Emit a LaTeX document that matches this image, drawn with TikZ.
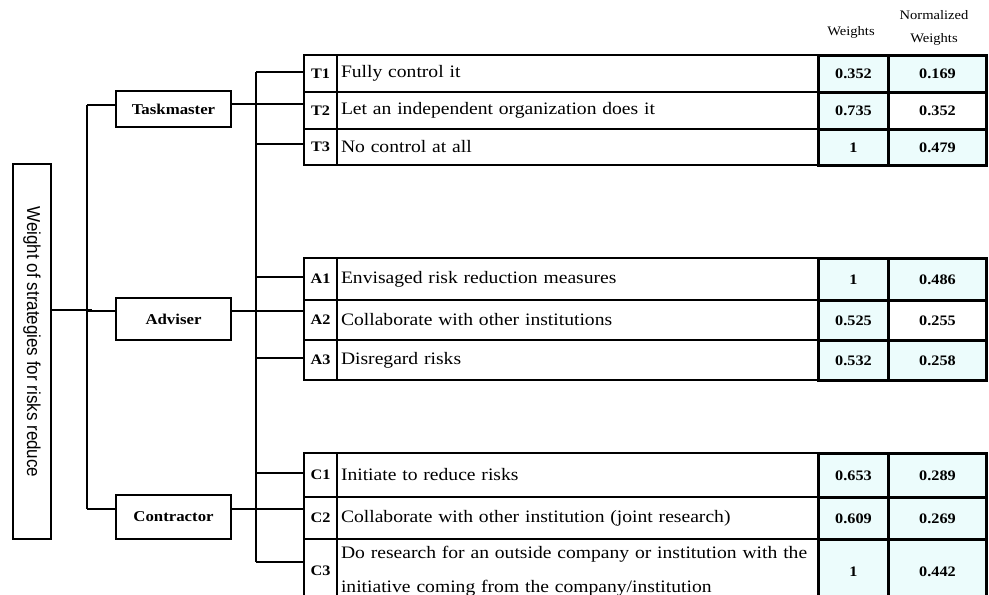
\documentclass[tikz,border=0pt]{standalone}
\usepackage{fontspec}
\setmainfont{Liberation Serif}
\newfontfamily\rowfont[FakeStretch=1.12]{Liberation Serif}
\newfontfamily\labfont{Liberation Sans}
\definecolor{cellbg}{RGB}{236,252,252}
\newcommand\mkrow[9]{%
  \node[idc,minimum height=#3pt] (#1) at (303,#2) {#4};
  \node[txc,minimum height=#3pt] (#1t) at (336,#2) {#5};
  \node[wc,minimum height=#3pt,#8] (#1w) at (817,#2) {#6};
  \node[nc,minimum height=#3pt,#9] (#1n) at (887,#2) {#7};
}
\begin{document}
\begin{tikzpicture}[x=1pt,y=-1pt,line width=2pt,
  frame/.style={draw,line width=2.6pt,inner sep=0pt},
  sbox/.style={frame,minimum width=115pt,font={\rowfont\bfseries\fontsize{15}{18}\selectfont}},
  idc/.style={draw,line width=2pt,anchor=north west,minimum width=33pt,inner sep=0pt,font={\rowfont\bfseries\fontsize{14.5}{17}\selectfont}},
  txc/.style={draw,line width=2pt,anchor=north west,text width=473pt,inner xsep=4pt,inner ysep=0pt,align=left,font={\rowfont\fontsize{17.5}{21}\selectfont}},
  wc/.style={draw,line width=3pt,anchor=north west,minimum width=70pt,inner sep=0pt,font={\rowfont\bfseries\fontsize{14.5}{17}\selectfont}},
  nc/.style={wc,minimum width=98pt},
  shade/.style={fill=cellbg},
  hdr/.style={font={\rowfont\fontsize{13}{23}\selectfont},align=center,inner sep=0pt},
  conn/.style={line width=2pt}
]
\useasboundingbox (0,0) rectangle (989,595);

% headers
\node[hdr] (hw) at (851,32) {Weights};
\node[hdr] (hn) at (934,28) {Normalized\\Weights};

% root box
\node[frame,minimum width=38pt,minimum height=375pt] (root) at (32,351.5) {};
\node[rotate=-90,inner sep=0pt,font={\labfont\fontsize{17}{20}\selectfont}] (rootlbl) at (32,342) {\scalebox{1}[1.1]{Weight of strategies for risks reduce}};

% strategy boxes
\node[sbox,minimum height=36pt] (tm) at (173.5,109) {Taskmaster};
\node[sbox,minimum height=42pt] (adv) at (173.5,319) {Adviser};
\node[sbox,minimum height=44pt] (con) at (173.5,517) {Contractor};

% tables
\mkrow{T1}{54}{37}{T1}{Fully control it}{0.352}{0.169}{shade}{shade}
\mkrow{T2}{91}{37}{T2}{Let an independent organization does it}{0.735}{0.352}{shade}{}
\mkrow{T3}{128}{36}{T3}{No control at all}{1}{0.479}{shade}{shade}

\mkrow{A1}{257}{42}{A1}{Envisaged risk reduction measures}{1}{0.486}{shade}{shade}
\mkrow{A2}{299}{40}{A2}{Collaborate with other institutions}{0.525}{0.255}{shade}{}
\mkrow{A3}{339}{40}{A3}{Disregard risks}{0.532}{0.258}{shade}{shade}

\mkrow{C1}{452}{44}{C1}{Initiate to reduce risks}{0.653}{0.289}{shade}{shade}
\mkrow{C2}{496}{42}{C2}{Collaborate with other institution (joint research)}{0.609}{0.269}{shade}{shade}
\mkrow{C3}{538}{64}{C3}{Do research for an outside company or institution with the\\[13pt]initiative coming from the company/institution}{1}{0.442}{shade}{shade}

% left bus
\coordinate (lbT) at (87,105);
\coordinate (lbB) at (87,509);
\coordinate (lbM) at (92,310);
\coordinate (lbA) at (87,311);
\draw[conn] (lbT) -- (lbB);
\draw[conn] (lbT) -- (tm.west |- lbT);
\draw[conn] (root.east |- lbM) -- (lbM);
\draw[conn] (lbA) -- (adv.west |- lbA);
\draw[conn] (lbB) -- (con.west |- lbB);

% right bus
\coordinate (rbT) at (256,72);
\coordinate (rbB) at (256,562);
\coordinate (yT2) at (0,104);
\coordinate (yT3) at (256,144);
\coordinate (yA1) at (256,277);
\coordinate (yA2) at (0,311);
\coordinate (yA3) at (256,358);
\coordinate (yC1) at (256,473);
\coordinate (yC2) at (0,509);
\draw[conn] (rbT) -- (rbB);
\draw[conn] (rbT) -- (T1.west |- rbT);
\draw[conn] (tm.east |- yT2) -- (T2.west |- yT2);
\draw[conn] (yT3) -- (T3.west |- yT3);
\draw[conn] (yA1) -- (A1.west |- yA1);
\draw[conn] (adv.east |- yA2) -- (A2.west |- yA2);
\draw[conn] (yA3) -- (A3.west |- yA3);
\draw[conn] (yC1) -- (C1.west |- yC1);
\draw[conn] (con.east |- yC2) -- (C2.west |- yC2);
\draw[conn] (rbB) -- (C3.west |- rbB);
\end{tikzpicture}
\end{document}
